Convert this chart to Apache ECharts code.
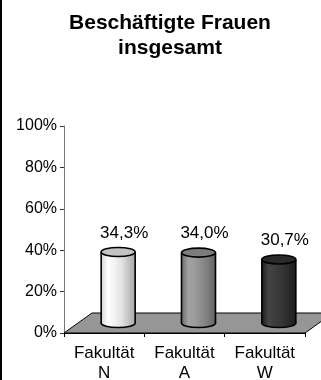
<!DOCTYPE html>
<html>
<head>
<meta charset="utf-8">
<script src="https://cdn.jsdelivr.net/npm/echarts@6/dist/echarts.min.js"></script>
<style>
  html, body { margin: 0; padding: 0; background: #fff; }
  #chart { width: 321px; height: 380px; }
</style>
</head>
<body>
<div id="chart"></div>
<script>
// Share of women among employees, by faculty
const categories = ['Fakultät\nN', 'Fakultät\nA', 'Fakultät\nW'];
const shares = [34.3, 34.0, 30.7];
const titleLines = ['Beschäftigte Frauen', 'insgesamt'];

// Pseudo-3D look: floor depth and cylinder styling
const FLOOR_DX = 28, FLOOR_DY = 20;
const CYL_RX = 17, CYL_RY = 4.5;
const cylinderStyles = [
  { body: ['#d4d4d4', '#ffffff', '#f2f2f2', '#e2e2e2', '#c4c4c4', '#a8a8a8'], top: '#c4c4c4' },
  { body: ['#6a6a6a', '#a2a2a2', '#9a9a9a', '#8c8c8c', '#7a7a7a', '#626262'], top: '#7c7c7c' },
  { body: ['#1e1e1e', '#444444', '#3c3c3c', '#343434', '#2a2a2a', '#1c1c1c'], top: '#2a2a2a' }
];
const FONT = 'Liberation Sans, Arial, sans-serif';

function gradient(stops) {
  const n = stops.length - 1;
  return {
    type: 'linear', x: 0, y: 0, x2: 1, y2: 0,
    colorStops: stops.map((c, i) => ({ offset: i / n, color: c }))
  };
}

function renderFloor(params, api) {
  const cs = params.coordSys;
  const x0 = cs.x, x1 = cs.x + cs.width;
  const yb = api.coord([0, 0])[1];
  return {
    type: 'polygon',
    shape: {
      points: [
        [x0, yb], [x1, yb],
        [x1 + FLOOR_DX, yb - FLOOR_DY], [x0 + FLOOR_DX, yb - FLOOR_DY]
      ]
    },
    style: { fill: '#969696', stroke: '#000', lineWidth: 1 }
  };
}

function renderCylinder(params, api) {
  const idx = api.value(0);
  const val = api.value(1);
  const base = api.coord([idx, 0]);
  const top = api.coord([idx, val]);
  // cylinders stand in the middle of the floor depth
  const cx = base[0] + FLOOR_DX / 2;
  const yb = base[1] - FLOOR_DY / 2;
  const yt = top[1] - FLOOR_DY / 2;
  const st = cylinderStyles[params.dataIndex];
  const fill = gradient(st.body);
  const label = val.toFixed(1).replace('.', ',') + '%';
  return {
    type: 'group',
    children: [
      { type: 'ellipse', shape: { cx: cx, cy: yb, rx: CYL_RX, ry: CYL_RY },
        style: { fill: fill, stroke: '#000', lineWidth: 1.6 } },
      { type: 'rect', shape: { x: cx - CYL_RX, y: yt, width: CYL_RX * 2, height: yb - yt },
        style: { fill: fill, stroke: null } },
      { type: 'line', shape: { x1: cx - CYL_RX, y1: yt, x2: cx - CYL_RX, y2: yb },
        style: { stroke: '#000', lineWidth: 1.6 } },
      { type: 'line', shape: { x1: cx + CYL_RX, y1: yt, x2: cx + CYL_RX, y2: yb },
        style: { stroke: '#000', lineWidth: 1.6 } },
      { type: 'ellipse', shape: { cx: cx, cy: yt, rx: CYL_RX, ry: CYL_RY },
        style: { fill: st.top, stroke: '#000', lineWidth: 1.6 } },
      { type: 'text', x: cx + 6, y: yt - 19,
        style: { text: label, align: 'center', verticalAlign: 'middle',
                 fontFamily: FONT, fontSize: 17, fill: '#000' } }
    ]
  };
}

const chart = echarts.init(document.getElementById('chart'), null, { renderer: 'canvas' });
chart.setOption({
  animation: false,
  backgroundColor: '#fff',
  graphic: [
    { type: 'rect', left: 0, top: 0, shape: { width: 2, height: 380 }, style: { fill: '#000' } },
    { type: 'text', x: 170, y: 23,
      style: { text: titleLines[0], align: 'center', verticalAlign: 'middle',
               fontFamily: FONT, fontWeight: 'bold', fontSize: 21, fill: '#000' } },
    { type: 'text', x: 170, y: 48,
      style: { text: titleLines[1], align: 'center', verticalAlign: 'middle',
               fontFamily: FONT, fontWeight: 'bold', fontSize: 21, fill: '#000' } }
  ],
  grid: { left: 64, right: 16, top: 126, bottom: 47, containLabel: false, outerBoundsMode: 'none' },
  xAxis: {
    type: 'category',
    data: categories,
    boundaryGap: true,
    axisLine: { lineStyle: { color: '#000', width: 1 } },
    axisTick: { show: true, length: 4, lineStyle: { color: '#000' } },
    axisLabel: { fontFamily: FONT, fontSize: 17, color: '#000', margin: 10, lineHeight: 20 },
    splitLine: { show: false }
  },
  yAxis: {
    type: 'value',
    min: 0, max: 100, interval: 20,
    axisLine: { show: true, lineStyle: { color: '#777', width: 1 } },
    axisTick: { show: true, length: 4, lineStyle: { color: '#333' } },
    axisLabel: { formatter: '{value}%', fontFamily: FONT, fontSize: 16, color: '#000', margin: 7 },
    splitLine: { show: false }
  },
  series: [
    {
      type: 'custom',
      z: 1,
      renderItem: renderFloor,
      data: [[0, 0]],
      silent: true
    },
    {
      type: 'custom',
      z: 3,
      renderItem: renderCylinder,
      encode: { x: 0, y: 1 },
      data: shares.map((v, i) => [i, v])
    }
  ]
});
</script>
</body>
</html>
